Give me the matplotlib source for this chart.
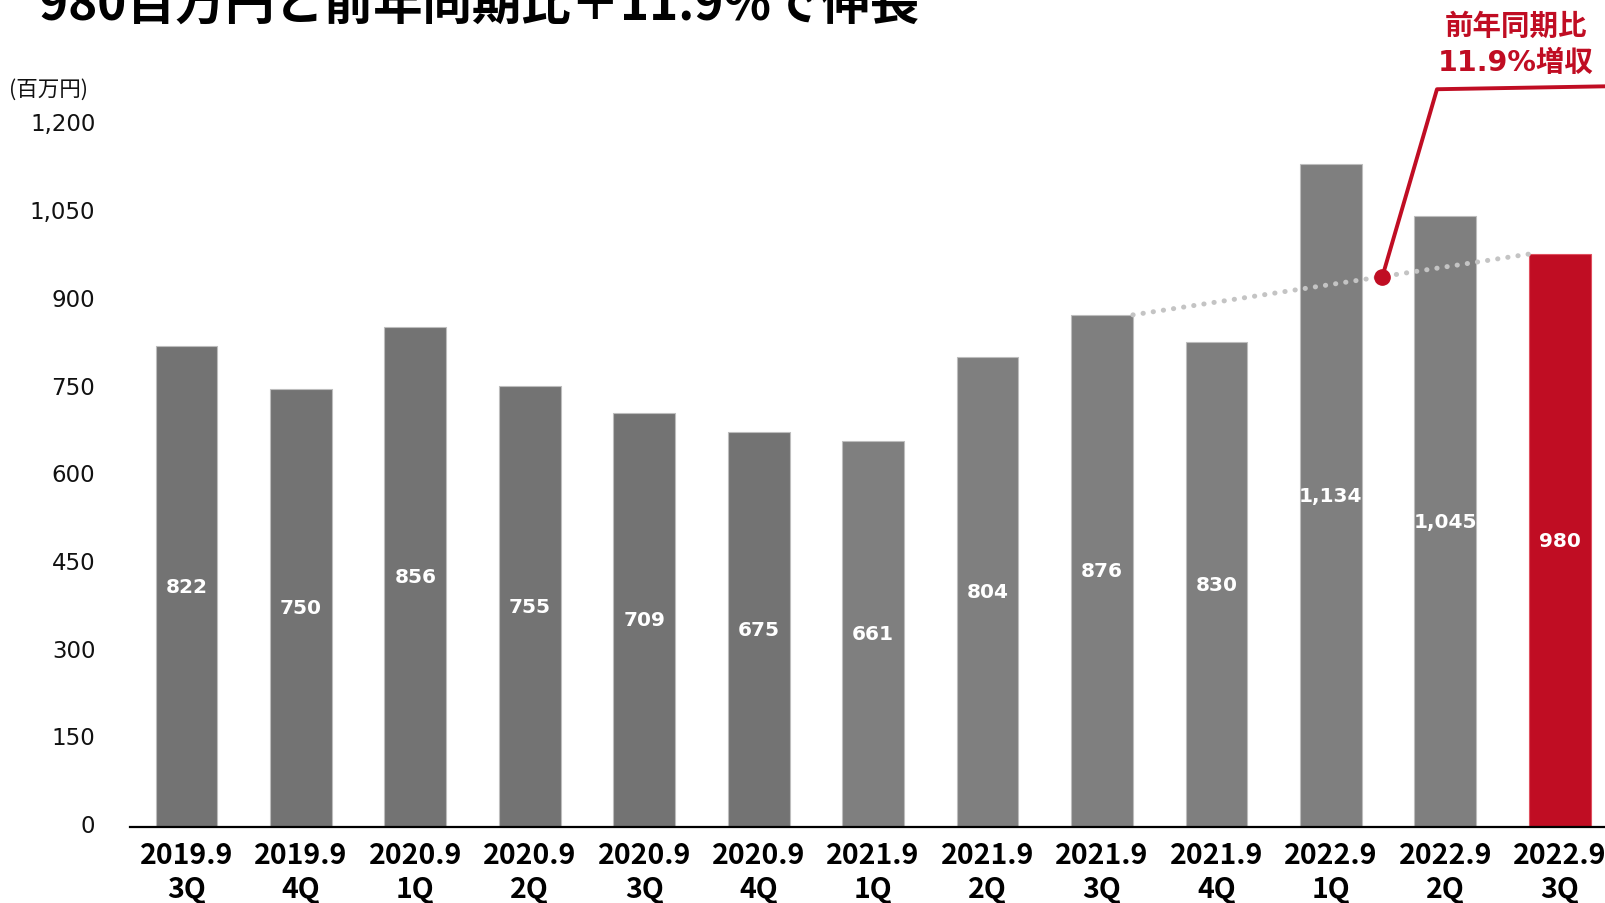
import matplotlib.pyplot as plt
import matplotlib.transforms as mtransforms
import numpy as np

plt.rcParams['font.family'] = ['DejaVu Sans', 'Noto Sans CJK JP']

periods = ["2019.9", "2019.9", "2020.9", "2020.9", "2020.9", "2020.9", "2021.9",
           "2021.9", "2021.9", "2021.9", "2022.9", "2022.9", "2022.9"]
quarters = ["3Q", "4Q", "1Q", "2Q", "3Q", "4Q", "1Q", "2Q", "3Q", "4Q", "1Q", "2Q", "3Q"]
sales = [822, 750, 856, 755, 709, 675, 661, 804, 876, 830, 1134, 1045, 980]
y_ticks = [0, 150, 300, 450, 600, 750, 900, 1050, 1200]

title = "980百万円と前年同期比＋11.9%で伸長"
callout = "前年同期比\n11.9%増収"

RED = '#C00D23'
colors = ['#737373'] * 6 + ['#7F7F7F'] * 6 + [RED]
edges = ['#BDBDBD'] * 12 + ['#E0505F']

fig = plt.figure(figsize=(16.06, 9.04), dpi=100)
ax = fig.add_axes([0.081, 0.0841, 0.919, 0.776])

x = np.arange(len(sales))
width = 0.54
ax.bar(x, sales, width, color=colors, edgecolor=edges, linewidth=0.8, zorder=2)

# value labels in the middle of each bar
for xi, v in zip(x, sales):
    ax.text(xi, v / 2, f"{v:,}", ha='center', va='center', color='white',
            fontsize=14.5, fontweight='bold', family='DejaVu Sans', zorder=4)

ax.set_xlim(-0.493, 12.404)
ax.set_ylim(0, 1200)
ax.set_yticks(y_ticks)
ax.set_yticklabels([f"{t:,}" for t in y_ticks], fontsize=16.5, color='#111111')
ax.set_xticks(x)
ax.set_xticklabels([f"{p}\n{q}" for p, q in zip(periods, quarters)],
                   fontsize=20.5, fontweight='bold', family='Noto Sans CJK JP',
                   linespacing=1.3)
ax.tick_params(axis='y', length=0, pad=25)
ax.tick_params(axis='x', length=0, pad=10)

# nudge y labels up a little
shift = mtransforms.ScaledTranslation(0, 4 / 100, fig.dpi_scale_trans)
for lbl in ax.get_yticklabels():
    lbl.set_transform(lbl.get_transform() + shift)

for s in ['top', 'right', 'left']:
    ax.spines[s].set_visible(False)
ax.spines['bottom'].set_linewidth(1.6)
ax.spines['bottom'].set_color('black')

# dotted year-over-year line: 2021.9 3Q -> 2022.9 3Q
x0, x1 = 8 + width / 2, 12 - width / 2
y0, y1 = sales[8], sales[12]
ax.plot([x0, x1], [y0, y1], color='#C4C4C4', linewidth=3.6,
        linestyle=(0, (0.05, 2.0)), dash_capstyle='round', zorder=3)

# callout leader from a point on the dotted line
dot_x = 10.45
dot_y = np.interp(dot_x, [x0, x1], [y0, y1])
ax.plot([dot_x, 10.927, 12.404], [dot_y, 1262, 1267], color=RED,
        linewidth=2.8, clip_on=False, zorder=5, solid_capstyle='butt')
ax.plot([dot_x], [dot_y], 'o', color=RED, markersize=11, clip_on=False, zorder=6)

fig.text(1516 / 1606, 1 - 45 / 904, callout, ha='center', va='center',
         color=RED, fontsize=20.5, fontweight='bold',
         family=['DejaVu Sans', 'Noto Sans CJK JP'], linespacing=1.4)

fig.text(9 / 1606, 1 - 90 / 904, "(百万円)", ha='left', va='center',
         fontsize=15.5, family='Noto Sans CJK JP', color='#111111')

fig.text(39 / 1606, 1 - 20 / 904, title, ha='left', va='baseline',
         fontsize=35.6, fontweight='bold', family='Noto Sans CJK JP', color='black')

fig.savefig('out.png', dpi=100)
